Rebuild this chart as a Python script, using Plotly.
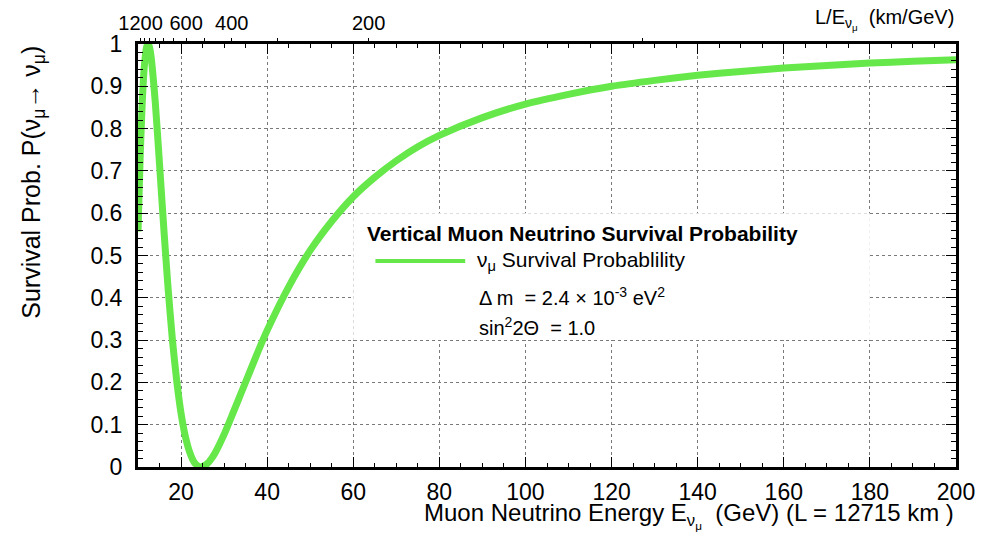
import plotly.graph_objects as go

# Muon neutrino energy (GeV) and survival probability
energy = [10, 10.5, 11, 11.5, 12, 12.3, 12.6, 13, 14, 15, 16, 17, 18, 19, 20,
          21, 22, 23, 24, 24.64, 25, 26, 27, 28, 30, 32, 34, 36, 38, 40, 45,
          50, 55, 60, 65, 70, 75, 80, 90, 100, 110, 120, 130, 140, 150, 160,
          170, 180, 190, 200]
survival = [0.557, 0.732, 0.865, 0.951, 0.993, 1.000, 0.995, 0.973, 0.864,
            0.716, 0.563, 0.421, 0.300, 0.203, 0.127, 0.072, 0.035, 0.012,
            0.002, 0.000, 0.001, 0.007, 0.019, 0.035, 0.077, 0.126, 0.176,
            0.226, 0.276, 0.323, 0.426, 0.512, 0.581, 0.639, 0.685, 0.724,
            0.757, 0.784, 0.826, 0.858, 0.881, 0.900, 0.914, 0.926, 0.935,
            0.943, 0.949, 0.955, 0.959, 0.963]

# Top axis: L/E (km/GeV) ticks, L = 12715 km
baseline_km = 12715
le_ticks = [1200, 1100, 1000, 900, 800, 700, 600, 500, 400, 300, 200, 100]
le_labels = ["1200", "", "", "", "", "", "600", "", "400", "", "200", ""]

FONT = "Liberation Sans, Arial, Helvetica, sans-serif"
GREEN = "#66e84a"

fig = go.Figure()
fig.add_trace(go.Scatter(
    x=energy, y=survival, mode="lines",
    line=dict(color=GREEN, width=7, shape="spline", smoothing=0.6),
    name="ν<sub>μ</sub> Survival Probablility", showlegend=False,
    cliponaxis=True,
))
# invisible trace to activate the top axis
fig.add_trace(go.Scatter(x=[10, 200], y=[0, 0], xaxis="x2", mode="markers",
                         marker=dict(opacity=0), showlegend=False, hoverinfo="skip"))

fig.update_layout(
    width=987, height=533,
    margin=dict(l=138, r=29, t=42, b=66),
    paper_bgcolor="white", plot_bgcolor="white",
    font=dict(family=FONT, size=18, color="black"),
    xaxis=dict(
        range=[10, 200], tickvals=list(range(20, 201, 20)),
        ticks="inside", ticklen=10, tickwidth=1, tickcolor="black",
        minor=dict(dtick=5, tick0=0, ticks="inside", ticklen=4, tickcolor="black", showgrid=False),
        showline=True, linecolor="black", linewidth=3, mirror="ticks",
        showgrid=True, gridcolor="#7a7a7a", griddash="dot", gridwidth=1,
        zeroline=False, ticklabelstandoff=2, tickfont=dict(size=23),
    ),
    xaxis2=dict(
        overlaying="x", side="top", range=[10, 200],
        tickvals=[baseline_km / v for v in le_ticks], ticktext=le_labels,
        ticks="outside", ticklen=5, tickcolor="black", showgrid=False,
        showline=False, zeroline=False, tickfont=dict(size=20),
        ticklabelstandoff=0,
    ),
    yaxis=dict(
        range=[0, 1], tickvals=[i / 10 for i in range(0, 11)],
        ticktext=["0", "0.1", "0.2", "0.3", "0.4", "0.5", "0.6", "0.7", "0.8", "0.9", "1"],
        ticks="inside", ticklen=10, tickcolor="black",
        minor=dict(dtick=0.02, ticks="inside", ticklen=5, tickcolor="black", showgrid=False),
        showline=True, linecolor="black", linewidth=3, mirror="ticks",
        showgrid=True, gridcolor="#7a7a7a", griddash="dot", gridwidth=1,
        zeroline=False, ticklabelstandoff=8, tickfont=dict(size=23),
    ),
    showlegend=False,
)

# legend box (white, covering grid)
fig.add_shape(type="rect", xref="x", yref="y", x0=60, x1=180, y0=0.3, y1=0.6,
              fillcolor="white", line=dict(width=0), layer="above")
fig.add_shape(type="line", xref="paper", yref="paper",
              x0=(376 - 138) / 820, x1=(466 - 138) / 820,
              y0=(467 - 260) / 425, y1=(467 - 260) / 425,
              line=dict(color=GREEN, width=4))

def ann(text, x_px, y_px, size=18, **kw):
    fig.add_annotation(text=text, xref="paper", yref="paper",
                       x=(x_px - 138) / 820, y=(467 - y_px) / 425,
                       xanchor=kw.pop("xanchor", "left"), yanchor="middle",
                       showarrow=False, font=dict(family=FONT, size=size, color="black"), **kw)

ann("<b>Vertical Muon Neutrino Survival Probability</b>", 366, 232, size=21)
ann("ν<sub>μ</sub> Survival Probablility", 476, 260, size=21)
ann("Δ m  = 2.4 × 10<sup>-3</sup> eV<sup>2</sup>", 478, 296, size=20)
ann("sin<sup>2</sup>2Θ  = 1.0", 478, 326, size=20)

# axis titles
fig.add_annotation(text="Muon Neutrino Energy E<sub>ν<sub>μ</sub></sub>  (GeV) (L = 12715 km )",
                   xref="paper", yref="paper", x=1.0, y=(467 - 516) / 425,
                   xanchor="right", yanchor="middle", showarrow=False,
                   font=dict(family=FONT, size=24))
fig.add_annotation(text="L/E<sub>ν<sub>μ</sub></sub>  (km/GeV)",
                   xref="paper", yref="paper", x=1.0, y=(467 - 17) / 425,
                   xanchor="right", yanchor="middle", showarrow=False,
                   font=dict(family=FONT, size=20))
fig.add_annotation(text="Survival Prob. P(ν<sub>μ</sub>→ ν<sub>μ</sub>)",
                   xref="paper", yref="paper", x=(32 - 138) / 820, y=1.0,
                   xanchor="center", yanchor="top", textangle=-90, showarrow=False,
                   font=dict(family=FONT, size=25))

fig.write_html("out.html")
